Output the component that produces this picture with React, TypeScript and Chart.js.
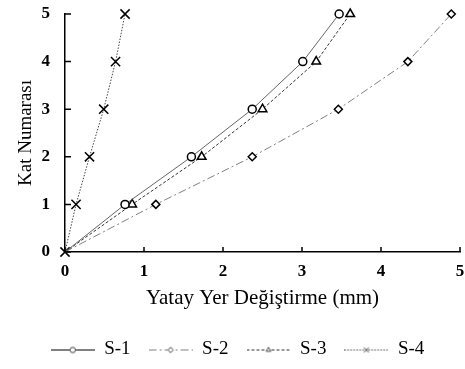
import React, { useEffect, useRef } from 'react';
import { Chart, registerables } from 'chart.js';

Chart.register(...registerables);

const floors = [0, 1, 2, 3, 4, 5];
const s1 = [0, 0.76, 1.6, 2.37, 3.01, 3.47];
const s2 = [0, 1.15, 2.37, 3.46, 4.34, 4.89];
const s3 = [0, 0.85, 1.73, 2.5, 3.18, 3.61];
const s4 = [0, 0.14, 0.31, 0.49, 0.64, 0.76];
const seriesNames = ['S-1', 'S-2', 'S-3', 'S-4'];
const seriesValues = [s1, s2, s3, s4];
const xTitle = 'Yatay Yer Değiştirme (mm)';
const yTitle = 'Kat Numarası';

const FONT = "'Liberation Serif', 'Times New Roman', serif";

const styles = [
  { color: '#666666', dash: [] as number[], marker: 'circle', radius: 4 },
  { color: '#808080', dash: [8, 3, 2, 3], marker: 'rectRot', radius: 4 },
  { color: '#333333', dash: [3, 2], marker: 'triangle', radius: 5 },
  { color: '#444444', dash: [1.5, 1.5], marker: 'crossRot', radius: 6.5 },
];

function drawMarker(ctx: CanvasRenderingContext2D, kind: string, x: number, y: number, r: number) {
  ctx.beginPath();
  if (kind === 'circle') {
    ctx.arc(x, y, r, 0, Math.PI * 2);
  } else if (kind === 'rectRot') {
    ctx.moveTo(x, y - r);
    ctx.lineTo(x + r, y);
    ctx.lineTo(x, y + r);
    ctx.lineTo(x - r, y);
    ctx.closePath();
  } else if (kind === 'triangle') {
    ctx.moveTo(x, y - r);
    ctx.lineTo(x + r * 0.866, y + r / 2);
    ctx.lineTo(x - r * 0.866, y + r / 2);
    ctx.closePath();
  } else {
    const o = r * 0.707;
    ctx.moveTo(x - o, y - o);
    ctx.lineTo(x + o, y + o);
    ctx.moveTo(x + o, y - o);
    ctx.lineTo(x - o, y + o);
  }
  if (kind !== 'crossRot') {
    ctx.fillStyle = '#fff';
    ctx.fill();
  }
  ctx.stroke();
}

function makeLegendImage(i: number): HTMLCanvasElement {
  const c = document.createElement('canvas');
  c.width = 44;
  c.height = 12;
  const ctx = c.getContext('2d')!;
  const st = styles[i];
  ctx.strokeStyle = i === 0 ? '#000' : st.color;
  ctx.lineWidth = 1;
  ctx.setLineDash(st.dash);
  ctx.beginPath();
  ctx.moveTo(0, 6.5);
  ctx.lineTo(44, 6.5);
  ctx.stroke();
  ctx.setLineDash([]);
  ctx.strokeStyle = '#444';
  ctx.lineWidth = 1;
  drawMarker(ctx, st.marker, 22, 6.5, st.marker === 'crossRot' ? 3.5 : 2.7);
  return c;
}

const innerTicks = {
  id: 'innerTicks',
  afterDraw(chart: any) {
    const { ctx } = chart;
    const xs = chart.scales.x;
    const ys = chart.scales.y;
    ctx.save();
    ctx.strokeStyle = '#000';
    ctx.lineWidth = 1.5;
    ctx.beginPath();
    xs.ticks.forEach((_t: any, i: number) => {
      const px = xs.getPixelForTick(i);
      ctx.moveTo(px, xs.top);
      ctx.lineTo(px, xs.top - 5);
    });
    ys.ticks.forEach((_t: any, i: number) => {
      const py = ys.getPixelForTick(i);
      ctx.moveTo(ys.right, py);
      ctx.lineTo(ys.right + 6, py);
    });
    ctx.stroke();
    ctx.restore();
  },
};

export default function App() {
  const ref = useRef<HTMLCanvasElement>(null);
  useEffect(() => {
    document.body.style.margin = '0';
    const images = seriesNames.map((_n, i) => makeLegendImage(i));
    const chart = new Chart(ref.current!, {
      type: 'scatter',
      data: {
        datasets: seriesNames.map((name, i) => ({
          label: name,
          data: floors.map((f, k) => ({ x: seriesValues[i][k], y: f })),
          showLine: true,
          borderColor: styles[i].color,
          borderWidth: 1,
          borderDash: styles[i].dash,
          pointStyle: styles[i].marker as any,
          pointRadius: (c: any) => (i < 3 && c.dataIndex === 0 ? 0 : styles[i].radius),
          pointHoverRadius: 0,
          pointBorderColor: '#000',
          pointBackgroundColor: '#fff',
          pointBorderWidth: 1.5,
          clip: false as any,
        })),
      },
      options: {
        animation: false,
        responsive: false,
        layout: { autoPadding: false, padding: { top: 14, left: 15, right: 5, bottom: 0 } },
        plugins: {
          tooltip: { enabled: false },
          legend: {
            position: 'bottom',
            labels: {
              usePointStyle: true,
              pointStyleWidth: 44,
              padding: 18,
              color: '#000',
              font: { family: FONT, size: 19 },
              generateLabels: () =>
                seriesNames.map((n, i) => ({
                  text: n,
                  pointStyle: images[i] as any,
                  fillStyle: 'transparent',
                  strokeStyle: 'transparent',
                  lineWidth: 0,
                  hidden: false,
                  datasetIndex: i,
                  fontColor: '#000',
                })),
            },
          },
        },
        scales: {
          x: {
            type: 'linear',
            min: 0,
            max: 5,
            afterFit: (s: any) => {
              s.height = 70;
              s.paddingLeft = 0;
              s.paddingRight = 0;
            },
            ticks: { stepSize: 1, color: '#000', padding: 9, font: { family: FONT, size: 17, weight: 'bold' } },
            grid: { drawOnChartArea: false, drawTicks: false },
            border: { display: true, color: '#000', width: 1.5 },
            title: {
              display: true,
              text: xTitle,
              color: '#000',
              font: { family: FONT, size: 21 },
              padding: { top: 6, bottom: 11 },
            },
          },
          y: {
            type: 'linear',
            min: 0,
            max: 5,
            afterFit: (s: any) => {
              s.width = 50;
              s.paddingTop = 0;
              s.paddingBottom = 0;
            },
            ticks: { stepSize: 1, color: '#000', padding: 15, font: { family: FONT, size: 17, weight: 'bold' } },
            grid: { drawOnChartArea: false, drawTicks: false },
            border: { display: true, color: '#000', width: 1.5 },
            title: {
              display: true,
              text: yTitle,
              color: '#000',
              font: { family: FONT, size: 19 },
              padding: { top: 0, bottom: 0 },
            },
          },
        },
      },
      plugins: [innerTicks],
    });
    return () => chart.destroy();
  }, []);
  return (
    <div style={{ width: 465, height: 369 }}>
      <canvas ref={ref} width={465} height={369} />
    </div>
  );
}
